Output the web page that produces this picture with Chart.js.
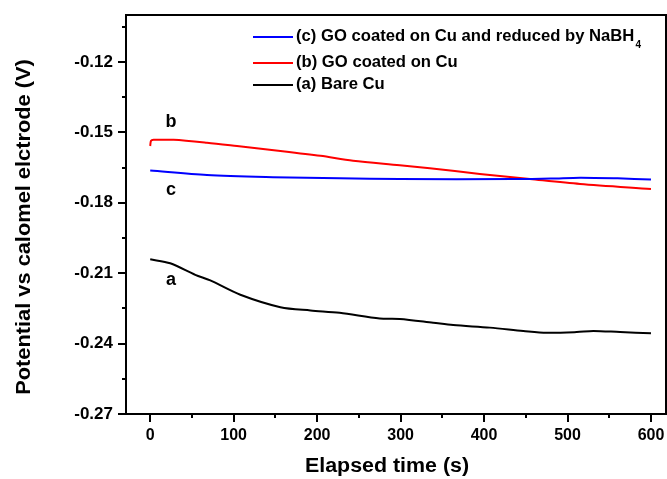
<!DOCTYPE html>
<html>
<head>
<meta charset="utf-8">
<script src="https://cdn.jsdelivr.net/npm/chart.js@4/dist/chart.umd.min.js"></script>
<style>
  body { margin: 0; background: #fff; }
  #wrap { width: 667px; height: 479px; }
</style>
</head>
<body>
<div id="wrap"><canvas id="potencial"></canvas></div>
<script>
// elapsed time (s) and potential (V)
const timeA = [0, 24, 54, 72, 108, 156, 192, 227, 275, 299, 339, 363, 407, 447, 475, 511, 531, 563, 600];
const valA = [-0.2041, -0.2058, -0.2107, -0.2131, -0.2192, -0.2245, -0.2259, -0.2269, -0.2293, -0.2295,
  -0.2311, -0.2321, -0.2332, -0.2346, -0.2354, -0.2351, -0.2346, -0.2351, -0.2356];

const timeB = [0, 1, 4, 28, 68, 104, 156, 204, 243, 299, 335, 395, 455, 515, 600];
const valB = [-0.1558, -0.1536, -0.1532, -0.1532, -0.1544, -0.1558, -0.1579, -0.1600, -0.1621, -0.1640,
  -0.1653, -0.1677, -0.1699, -0.1720, -0.1741];

const timeC = [0, 68, 147, 227, 299, 435, 480, 515, 560, 600];
const valC = [-0.1663, -0.1682, -0.1691, -0.1696, -0.1699, -0.1699, -0.1697, -0.1693, -0.1696, -0.1701];

const xTicks = [0, 100, 200, 300, 400, 500, 600];
const yTicks = [-0.27, -0.24, -0.21, -0.18, -0.15, -0.12];
const xMinor = [-50, 50, 150, 250, 350, 450, 550];
const yMinor = [-0.255, -0.225, -0.195, -0.165, -0.135, -0.105];

const legendItems = [
  { text: "(c) GO coated on Cu and reduced by NaBH", sub: "4", color: "#0000ff" },
  { text: "(b) GO coated on Cu", sub: "", color: "#ff0000" },
  { text: "(a) Bare Cu", sub: "", color: "#000000" },
];
const curveLabels = [
  { text: "b", x: 25, y: -0.1458 },
  { text: "c", x: 25, y: -0.1745 },
  { text: "a", x: 25, y: -0.2128 },
];

const pares = (ts, vs) => ts.map((t, i) => ({ x: t, y: vs[i] }));
const FONT = "'Liberation Sans', Arial, sans-serif";

// text a bit wider than the font, like the original figure
function stretched(ctx, txt, x, y, sx) {
  ctx.save();
  ctx.translate(x, y);
  ctx.scale(sx, 1);
  ctx.fillText(txt, 0, 0);
  ctx.restore();
}

const extras = {
  id: "extras",
  afterDraw(chart) {
    const ctx = chart.ctx;
    const a = chart.chartArea;
    const xs = chart.scales.x, ys = chart.scales.y;
    ctx.save();
    ctx.strokeStyle = "#000";
    ctx.lineWidth = 2;
    // top and right frame
    ctx.beginPath();
    ctx.moveTo(a.left, a.top);
    ctx.lineTo(a.right, a.top);
    ctx.lineTo(a.right, a.bottom);
    ctx.stroke();
    // tick marks
    ctx.beginPath();
    xTicks.forEach(v => { const p = Math.round(xs.getPixelForValue(v)); ctx.moveTo(p, a.bottom); ctx.lineTo(p, a.bottom + 8); });
    xMinor.forEach(v => { const p = Math.round(xs.getPixelForValue(v)); if (p > a.left) { ctx.moveTo(p, a.bottom); ctx.lineTo(p, a.bottom + 4); } });
    yTicks.forEach(v => { const p = Math.round(ys.getPixelForValue(v)); ctx.moveTo(a.left, p); ctx.lineTo(a.left - 8, p); });
    yMinor.forEach(v => { const p = Math.round(ys.getPixelForValue(v)); ctx.moveTo(a.left, p); ctx.lineTo(a.left - 4, p); });
    ctx.stroke();

    // curve letters
    ctx.fillStyle = "#000";
    ctx.font = "bold 18px " + FONT;
    ctx.textAlign = "center";
    ctx.textBaseline = "middle";
    curveLabels.forEach(l => ctx.fillText(l.text, xs.getPixelForValue(l.x), ys.getPixelForValue(l.y)));

    // legend
    const rows = [37, 63, 85];
    legendItems.forEach((it, i) => {
      ctx.strokeStyle = it.color;
      ctx.lineWidth = 2;
      ctx.beginPath();
      ctx.moveTo(253, rows[i]);
      ctx.lineTo(293, rows[i]);
      ctx.stroke();
      ctx.font = "bold 16px " + FONT;
      ctx.textAlign = "left";
      const sx = 1.04;
      stretched(ctx, it.text, 296, rows[i], sx);
      if (it.sub) {
        const w = ctx.measureText(it.text).width * sx;
        ctx.font = "bold 10px " + FONT;
        ctx.fillText(it.sub, 296 + w + 1, rows[i] + 8);
      }
    });

    // axis titles
    ctx.font = "bold 20px " + FONT;
    ctx.textAlign = "center";
    stretched(ctx, "Elapsed time (s)", 387, 466, 1.07);
    ctx.translate(24, 227);
    ctx.rotate(-Math.PI / 2);
    stretched(ctx, "Potential vs calomel elctrode (V)", 0, 0, 1.09);
    ctx.restore();
  }
};

new Chart(document.getElementById("potencial"), {
  type: "line",
  data: {
    datasets: [
      { label: "(c) GO coated on Cu and reduced by NaBH4", data: pares(timeC, valC), borderColor: "#0000ff" },
      { label: "(b) GO coated on Cu", data: pares(timeB, valB), borderColor: "#ff0000" },
      { label: "(a) Bare Cu", data: pares(timeA, valA), borderColor: "#000000" },
    ]
  },
  options: {
    responsive: true,
    maintainAspectRatio: false,
    animation: false,
    layout: { padding: { top: 15, right: 1, left: 0, bottom: 0 } },
    elements: {
      point: { radius: 0 },
      line: { borderWidth: 2, tension: 0.3, fill: false }
    },
    plugins: {
      legend: { display: false },
      tooltip: { enabled: false },
    },
    scales: {
      x: {
        type: "linear",
        min: -29,
        max: 618,
        afterBuildTicks: s => { s.ticks = xTicks.map(v => ({ value: v })); },
        afterFit: s => { s.height = 65; s.paddingLeft = 0; s.paddingRight = 0; },
        grid: { display: false, drawTicks: false },
        border: { display: true, color: "#000", width: 2 },
        ticks: { color: "#000", padding: 12, maxRotation: 0, font: { family: FONT, size: 16, weight: "bold" } }
      },
      y: {
        type: "linear",
        min: -0.27,
        max: -0.10,
        afterBuildTicks: s => { s.ticks = yTicks.map(v => ({ value: v })); },
        afterFit: s => { s.width = 126; s.paddingTop = 0; s.paddingBottom = 0; },
        grid: { display: false, drawTicks: false },
        border: { display: true, color: "#000", width: 2 },
        ticks: {
          color: "#000", padding: 13,
          font: { family: FONT, size: 17, weight: "bold" },
          callback: v => v.toFixed(2)
        }
      }
    }
  },
  plugins: [extras]
});
</script>
</body>
</html>
